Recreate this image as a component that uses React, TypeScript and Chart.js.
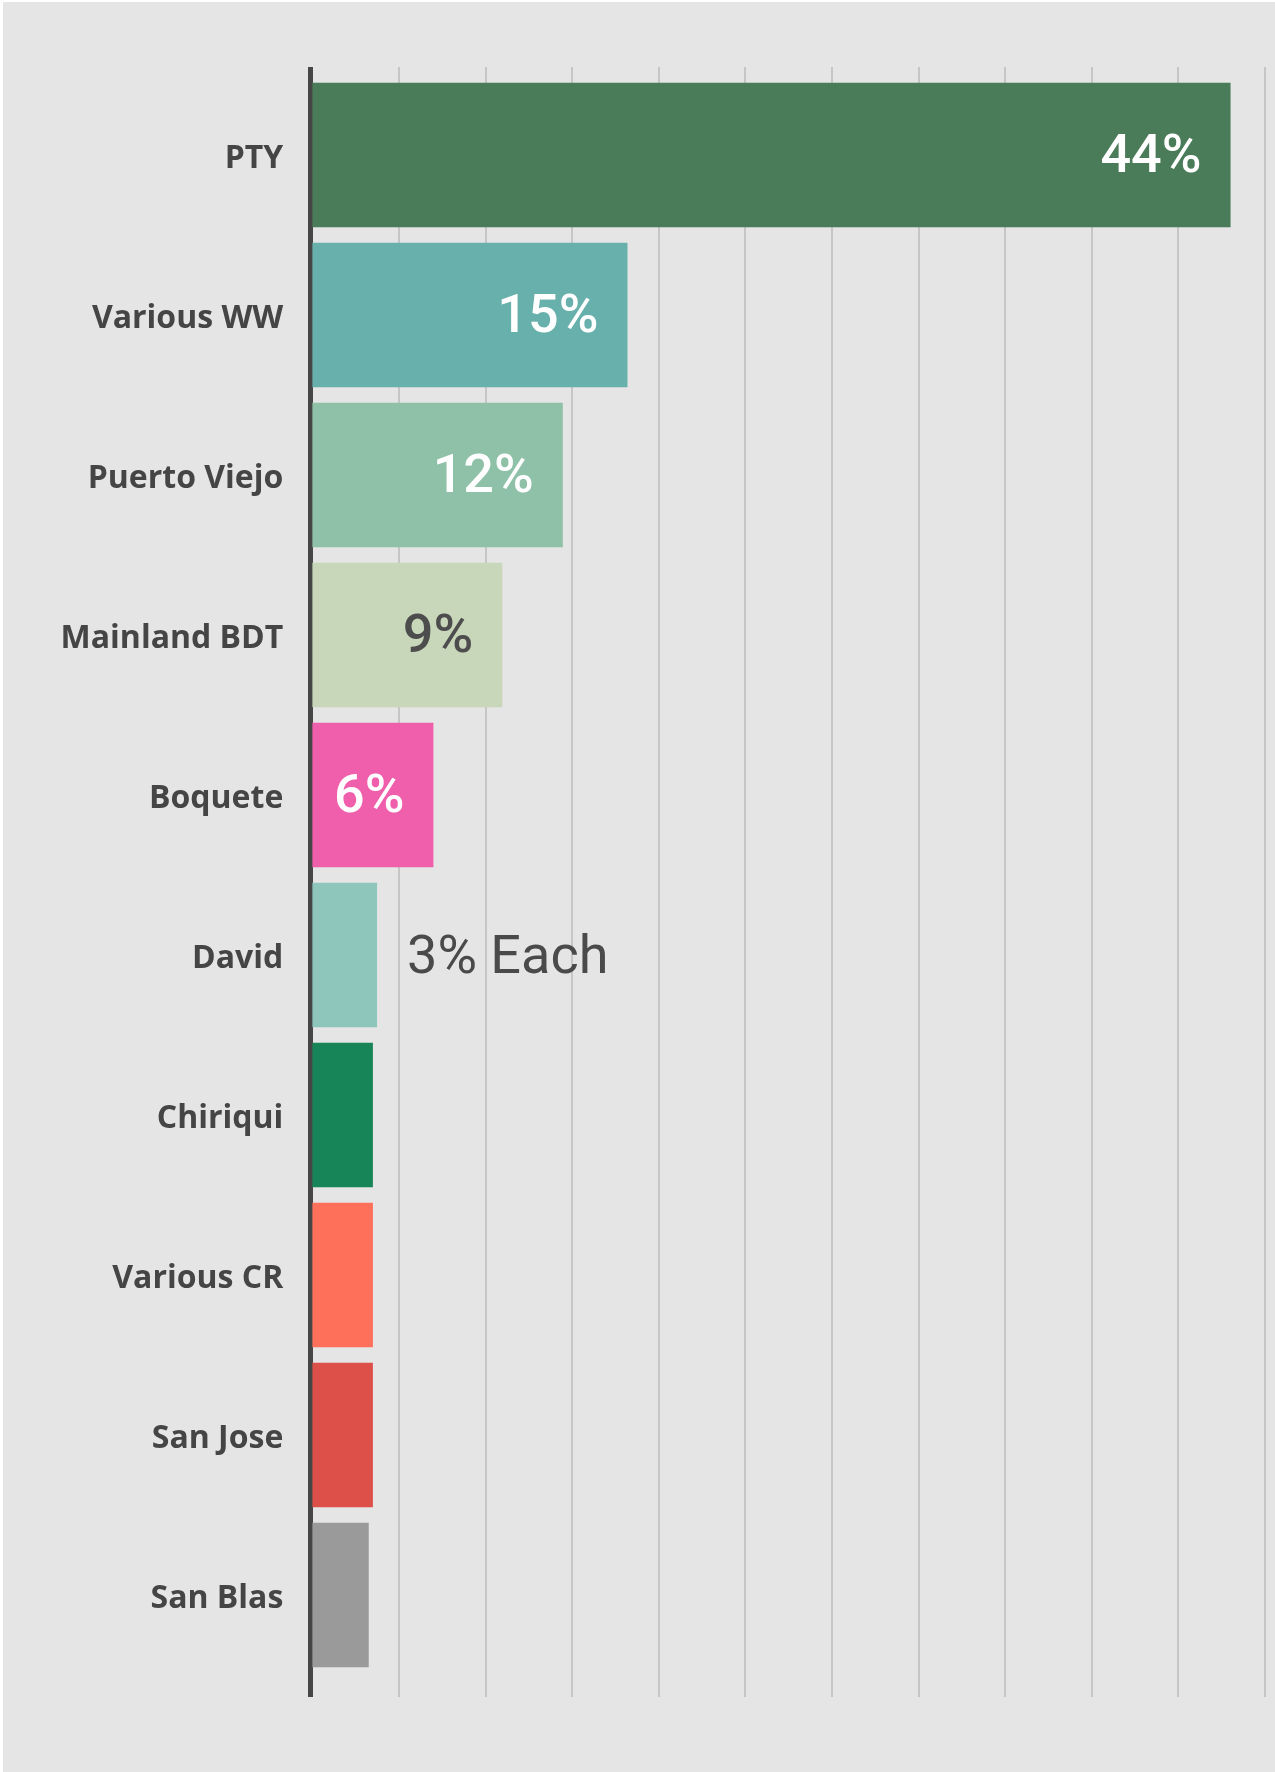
import React, { useEffect, useRef } from 'react';
import { Chart, registerables } from 'chart.js';

Chart.register(...registerables);

// ---- Data ----
const CATEGORIES = [
  'PTY',
  'Various WW',
  'Puerto Viejo',
  'Mainland BDT',
  'Boquete',
  'David',
  'Chiriqui',
  'Various CR',
  'San Jose',
  'San Blas',
];
const VALUES = [44.0, 15.1, 12.0, 9.1, 5.8, 3.1, 2.9, 2.9, 2.9, 2.7];
const BAR_COLORS = [
  '#4a7c59',
  '#67b0ac',
  '#8fc1a9',
  '#c8d6b9',
  '#ef5fab',
  '#8fc6bc',
  '#188558',
  '#ff705b',
  '#dc5049',
  '#9a9a9a',
];
const VALUE_LABELS = ['44%', '15%', '12%', '9%', '6%', '3% Each', '', '', '', ''];
const LABEL_COLORS = ['#ffffff', '#ffffff', '#ffffff', '#4d4d4d', '#ffffff', '#4a4a4a', '', '', '', ''];
const LABEL_INSIDE = [true, true, true, true, true, false, false, false, false, false];

// x axis grid positions (percent)
const X_MIN = -0.1;
const X_STEP = 4.15;
const X_GRID_COUNT = 11;
const X_MAX = X_STEP * X_GRID_COUNT;
const GRID_VALUES = [X_MIN].concat(
  Array.from({ length: X_GRID_COUNT }, (_, i) => Number((X_STEP * (i + 1)).toFixed(3)))
);

const BG = '#e5e5e5';
const GRID_COLOR = '#c6c6c6';
const AXIS_COLOR = '#464646';
const TEXT_COLOR = '#454545';

const valueLabelPlugin = {
  id: 'valueLabels',
  afterDatasetsDraw(chart: any) {
    const ctx = chart.ctx;
    const meta = chart.getDatasetMeta(0);
    ctx.save();
    ctx.font = '500 54px Roboto';
    ctx.textBaseline = 'alphabetic';
    meta.data.forEach((bar: any, i: number) => {
      const text = VALUE_LABELS[i];
      if (!text) return;
      const { x, y } = bar.getProps(['x', 'y'], true);
      ctx.fillStyle = LABEL_COLORS[i];
      if (LABEL_INSIDE[i]) {
        ctx.textAlign = 'right';
        ctx.fillText(text, x - 29, y + 17);
      } else {
        ctx.font = '400 54px Roboto';
        ctx.textAlign = 'left';
        ctx.fillText(text, x + 30, y + 18);
      }
    });
    ctx.restore();
  },
};

const setGridTicks = (scale: any) => {
  scale.ticks = GRID_VALUES.map((v) => ({ value: v }));
};

const gridColor = (c: any) => (c.tick && c.tick.value < 0 ? AXIS_COLOR : GRID_COLOR);
const gridWidth = (c: any) => (c.tick && c.tick.value < 0 ? 5 : 2);

export default function App() {
  const canvasRef = useRef<HTMLCanvasElement | null>(null);

  useEffect(() => {
    const canvas = canvasRef.current;
    if (!canvas) return;
    const chart = new Chart(canvas, {
      type: 'bar',
      data: {
        labels: CATEGORIES,
        datasets: [
          {
            data: VALUES,
            backgroundColor: BAR_COLORS,
            borderWidth: 0,
            categoryPercentage: 1,
            barPercentage: 0.904,
          },
        ],
      },
      options: {
        indexAxis: 'y',
        animation: false,
        responsive: false,
        devicePixelRatio: 1,
        layout: { padding: { left: 0, right: 10, top: 67, bottom: 75 } },
        plugins: {
          legend: { display: false },
          tooltip: { enabled: false },
        },
        scales: {
          x: {
            type: 'linear',
            position: 'bottom',
            min: X_MIN,
            max: X_MAX,
            afterBuildTicks: setGridTicks,
            ticks: { display: false, autoSkip: false },
            border: { display: false },
            grid: {
              display: true,
              drawOnChartArea: true,
              drawTicks: true,
              tickLength: 22,
              color: gridColor,
              tickColor: gridColor,
              lineWidth: gridWidth,
              tickWidth: gridWidth,
            },
          },
          x2: {
            type: 'linear',
            position: 'top',
            axis: 'x',
            min: X_MIN,
            max: X_MAX,
            afterBuildTicks: setGridTicks,
            ticks: { display: false, autoSkip: false },
            border: { display: false },
            grid: {
              display: true,
              drawOnChartArea: false,
              drawTicks: true,
              tickLength: 8,
              color: gridColor,
              tickColor: gridColor,
              lineWidth: gridWidth,
              tickWidth: gridWidth,
            },
          },
          y: {
            type: 'category',
            position: 'left',
            offset: true,
            afterFit: (scale: any) => {
              scale.width = 310.3;
            },
            border: { display: false },
            grid: { display: false, drawTicks: false },
            ticks: {
              padding: 27,
              labelOffset: 4,
              color: TEXT_COLOR,
              font: { family: "'Open Sans'", weight: 'bold', size: 32 },
            },
          },
        },
      },
      plugins: [valueLabelPlugin],
    } as any);

    let cancelled = false;
    if ((document as any).fonts && (document as any).fonts.load) {
      Promise.all([
        (document as any).fonts.load("bold 32px 'Open Sans'"),
        (document as any).fonts.load('500 54px Roboto'),
        (document as any).fonts.load('400 54px Roboto'),
      ])
        .then(() => {
          if (!cancelled) chart.update('none');
        })
        .catch(() => {});
    }

    return () => {
      cancelled = true;
      chart.destroy();
    };
  }, []);

  return (
    <div
      style={{
        position: 'absolute',
        left: 0,
        top: 0,
        width: 1275,
        height: 1772,
        background: '#ffffff',
        overflow: 'hidden',
      }}
    >
      <div
        style={{
          position: 'absolute',
          left: 3,
          top: 2,
          right: 0,
          bottom: 0,
          background: BG,
        }}
      />
      <canvas
        ref={canvasRef}
        width={1275}
        height={1772}
        style={{ position: 'absolute', left: 0, top: 0, width: 1275, height: 1772 }}
      />
    </div>
  );
}
